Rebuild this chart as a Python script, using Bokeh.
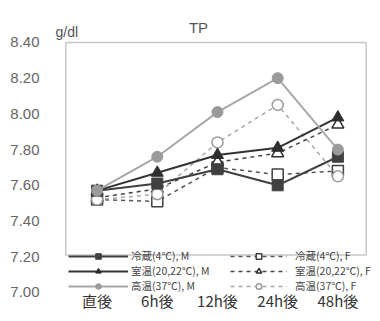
from bokeh.plotting import figure
from bokeh.models import (FixedTicker, PrintfTickFormatter, Legend, LegendItem,
                          BoxAnnotation, Label, Range1d, ColumnDataSource)
from bokeh.core.properties import value
from bokeh.embed import file_html
from bokeh.resources import INLINE

# ---- data ----
categories = ["直後", "6h後", "12h後", "24h後", "48h後"]
reizo_m = [7.57, 7.61, 7.69, 7.60, 7.76]
shitsuon_m = [7.57, 7.67, 7.77, 7.81, 7.98]
koon_m = [7.57, 7.76, 8.01, 8.20, 7.80]
reizo_f = [7.52, 7.51, 7.70, 7.66, 7.68]
shitsuon_f = [7.53, 7.58, 7.73, 7.78, 7.94]
koon_f = [7.52, 7.55, 7.84, 8.05, 7.65]
y_ticks = [7.00, 7.20, 7.40, 7.60, 7.80, 8.00, 8.20, 8.40]
labels_m = ["冷蔵(4℃), M", "室温(20,22℃), M", "高温(37℃), M"]
labels_f = ["冷蔵(4℃), F", "室温(20,22℃), F", "高温(37℃), F"]
title_text = "TP"
unit_text = "g/dl"

JP = "Noto Sans CJK JP"
NUM = "Liberation Sans"

xs = list(range(len(categories)))
y_top = y_ticks[-1]

p = figure(x_range=Range1d(-0.774, 4.575), y_range=Range1d(6.882, 8.635),
           width=372, height=313, output_backend="svg", toolbar_location=None,
           x_axis_location=None,
           min_border_left=50, min_border_right=0, min_border_top=0,
           min_border_bottom=0)
p.outline_line_color = None
p.background_fill_color = "white"
p.border_fill_color = "white"
p.xgrid.grid_line_color = None
p.ygrid.grid_line_color = None

# frame box (upper part only, legend sits below)
p.add_layout(BoxAnnotation(left=-0.52, right=4.47, top=y_top, bottom=7.21,
                           fill_alpha=0, line_color="#444444", line_width=1.5))

# y axis
p.yaxis.ticker = FixedTicker(ticks=y_ticks)
p.yaxis.formatter = PrintfTickFormatter(format="%.2f")
p.yaxis.axis_line_color = None
p.yaxis.major_tick_line_color = None
p.yaxis.minor_tick_line_color = None
p.yaxis.major_label_standoff = 5
p.yaxis.major_label_text_font = NUM
p.yaxis.major_label_text_font_size = "15px"
p.yaxis.major_label_text_color = "#666666"

# category labels under the chart
src_cat = ColumnDataSource(dict(x=xs, y=[6.955] * len(xs), t=categories))
p.text(x="x", y="y", text="t", source=src_cat, text_align="center",
       text_baseline="middle", text_font=value(JP), text_font_size="15px",
       text_color="#333333")

styles = [
    ("square", "#404040", 11),
    ("triangle", "#2e2e2e", 12),
    ("circle", "#9a9a9a", 11),
]
line_cols_m = ["#404040", "#333333", "#a8a8a8"]
line_cols_f = ["#555555", "#444444", "#a8a8a8"]

items_f = []
for data, (mk, col, sz), lc, lab in zip([reizo_f, shitsuon_f, koon_f], styles,
                                        line_cols_f, labels_f):
    l = p.line(xs, data, line_color=lc, line_width=1.5, line_dash="4 4")
    m = p.scatter(xs, data, marker=mk, size=sz, fill_color="white",
                  line_color=col, line_width=1.5)
    items_f.append(LegendItem(label=lab, renderers=[l, m]))

items_m = []
for data, (mk, col, sz), lc, lab in zip([reizo_m, shitsuon_m, koon_m], styles,
                                        line_cols_m, labels_m):
    l = p.line(xs, data, line_color=lc, line_width=2)
    m = p.scatter(xs, data, marker=mk, size=sz, fill_color=col,
                  line_color=col, line_width=1)
    items_m.append(LegendItem(label=lab, renderers=[l, m]))


def make_legend(items, loc, gw, standoff):
    return Legend(items=items, location=loc, orientation="vertical",
                  glyph_width=gw, glyph_height=14, label_height=14,
                  spacing=0, padding=0, margin=0, label_standoff=standoff,
                  label_text_font=JP, label_text_font_size="10.5px",
                  label_text_color="#444444", border_line_color=None,
                  background_fill_alpha=0)


p.add_layout(make_legend(items_m, (18, 20), 60, 3))
p.add_layout(make_legend(items_f, (180, 20), 57, 8))

# title and unit
p.add_layout(Label(x=1.684, y=8.484, text=title_text, text_align="center",
                   text_baseline="middle", text_font=NUM,
                   text_font_size="15px", text_color="#555555"))
p.add_layout(Label(x=-0.691, y=8.456, text=unit_text, text_align="left",
                   text_baseline="middle", text_font=NUM,
                   text_font_size="14px", text_color="#555555"))

open("out.html", "w").write(file_html(p, INLINE))
